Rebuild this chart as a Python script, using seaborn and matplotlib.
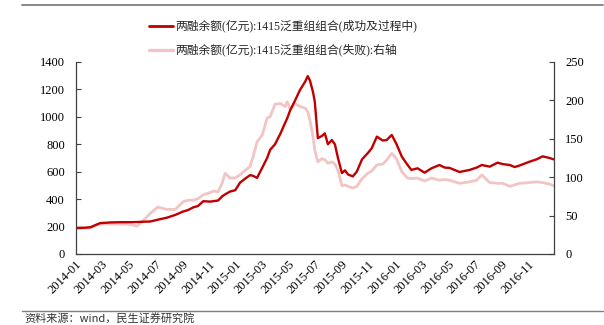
import matplotlib
matplotlib.use("Agg")
import matplotlib.pyplot as plt
import matplotlib.dates as mdates
from matplotlib.lines import Line2D
import seaborn as sns
import pandas as pd

dates = [
    "2014-01-02", "2014-01-22", "2014-02-03", "2014-02-14", "2014-02-25", "2014-03-20",
    "2014-04-12", "2014-05-05", "2014-05-21", "2014-06-01", "2014-06-20", "2014-07-07",
    "2014-07-28", "2014-08-16", "2014-09-03", "2014-09-14", "2014-09-26", "2014-10-07",
    "2014-10-19", "2014-11-04", "2014-11-11", "2014-11-22", "2014-12-01", "2014-12-08",
    "2014-12-19", "2014-12-31", "2015-01-11", "2015-01-23", "2015-02-03", "2015-02-10",
    "2015-02-19", "2015-03-03", "2015-03-14", "2015-03-21", "2015-04-01", "2015-04-13",
    "2015-04-24", "2015-04-29", "2015-05-06", "2015-05-17", "2015-05-28", "2015-06-09",
    "2015-06-15", "2015-06-20", "2015-06-27", "2015-07-01", "2015-07-08", "2015-07-17",
    "2015-07-24", "2015-07-31", "2015-08-09", "2015-08-16", "2015-08-23", "2015-09-01",
    "2015-09-08", "2015-09-15", "2015-09-26", "2015-10-05", "2015-10-17", "2015-10-30",
    "2015-11-08", "2015-11-20", "2015-12-03", "2015-12-12", "2015-12-24", "2016-01-04",
    "2016-01-16", "2016-01-29", "2016-02-07", "2016-02-21", "2016-03-08", "2016-03-24",
    "2016-04-11", "2016-04-23", "2016-05-04", "2016-05-27", "2016-06-19", "2016-07-05",
    "2016-07-17", "2016-08-04", "2016-08-22", "2016-09-03", "2016-09-19", "2016-09-30",
    "2016-10-11", "2016-11-03", "2016-11-19", "2016-12-03", "2016-12-19", "2016-12-28",
]

success_vals = [
    190, 192, 195, 210, 225, 230,
    232, 232, 233, 235, 237, 250,
    265, 285, 310, 320, 340, 350,
    385, 382, 385, 390, 420, 435,
    455, 465, 520, 550, 575, 570,
    555, 630, 700, 760, 800, 875,
    955, 990, 1050, 1120, 1195, 1257,
    1297, 1265, 1180, 1110, 845, 860,
    880, 800, 831, 800, 700, 590,
    610, 580, 566, 600, 690, 735,
    770, 856, 828, 830, 868, 800,
    710, 650, 613, 625, 593, 625,
    649, 630, 628, 598, 613, 630,
    649, 637, 666, 655, 649, 634,
    645, 673, 690, 712, 700, 690,
]

fail_vals = [
    33, 33.5, 34, 37, 39, 39,
    39, 38.5, 36.5, 42, 53, 61,
    58, 58, 68, 70, 70, 72,
    77, 80, 82, 81, 92, 105,
    99, 99, 103, 109, 114, 127,
    146, 155, 177, 179, 195, 196,
    192, 198, 188, 196, 192, 190,
    185, 174, 153, 135, 120, 124,
    123, 118, 120, 117, 109, 89,
    90, 88, 86, 88, 98, 105,
    108, 116, 117, 122, 131, 124,
    107, 99, 98, 99, 95, 99,
    96, 97, 96, 92, 94, 96,
    103, 93, 92, 92, 88, 90,
    92, 93, 94, 93, 91, 89,
]

label_success = "两融余额(亿元):1415泛重组组合(成功及过程中)"
label_fail = "两融余额(亿元):1415泛重组组合(失败):右轴"
source_text = "资料来源：wind，民生证券研究院"

df = pd.DataFrame({
    "date": pd.to_datetime(dates),
    "success": success_vals,
    "fail": fail_vals,
})

sns.set_theme(style="white")
plt.rcParams["font.family"] = ["Liberation Serif", "Noto Sans CJK SC"]

RED = "#C00000"
PINK = "#F2C4C4"
SPINE = "#404040"

fig = plt.figure(figsize=(6.04, 3.25), dpi=100)
ax = fig.add_axes([76 / 604, 1 - 254 / 325, (554 - 76) / 604, (254 - 62) / 325])
ax2 = ax.twinx()

sns.lineplot(data=df, x="date", y="fail", ax=ax2, color=PINK, linewidth=2.0, legend=False)
sns.lineplot(data=df, x="date", y="success", ax=ax, color=RED, linewidth=1.7, legend=False)

# draw red on top of pink
ax.set_zorder(ax2.get_zorder() + 1)
ax.patch.set_visible(False)

ax.set_ylim(0, 1400)
ax2.set_ylim(0, 250)
ax.set_yticks(range(0, 1401, 200))
ax2.set_yticks(range(0, 251, 50))
ax.set_xlim(pd.Timestamp("2014-01-01"), pd.Timestamp("2016-12-29"))
ax.xaxis.set_major_locator(mdates.MonthLocator(bymonth=[1, 3, 5, 7, 9, 11]))
ax.xaxis.set_major_formatter(mdates.DateFormatter("%Y-%m"))

for a in (ax, ax2):
    a.set_xlabel("")
    a.set_ylabel("")
    for s in a.spines.values():
        s.set_color(SPINE)
        s.set_linewidth(0.9)
    a.spines["top"].set_visible(False)
    a.tick_params(direction="in", length=3.5, width=0.8, color=SPINE,
                  labelsize=9, labelcolor="black")
ax.spines["right"].set_visible(False)
ax2.spines["left"].set_visible(False)
ax2.spines["bottom"].set_visible(False)
ax.tick_params(axis="y", pad=8)
ax2.tick_params(axis="y", pad=8)
ax.tick_params(axis="x", pad=3, labelsize=9)

for lab in ax.get_xticklabels():
    lab.set_rotation(45)
    lab.set_ha("right")
    lab.set_va("top")
    lab.set_rotation_mode("anchor")

handles = [
    Line2D([0], [0], color=RED, linewidth=2.0),
    Line2D([0], [0], color=PINK, linewidth=2.4),
]
fig.legend(handles, [label_success, label_fail], loc="upper left",
           bbox_to_anchor=(143 / 604, 1 - 14 / 325), frameon=False,
           handlelength=2.0, handletextpad=0.25,
           labelspacing=0.95, borderpad=0.0,
           prop={"family": ["Liberation Serif", "Noto Sans CJK SC"], "size": 8.5})

# decorative report rules
fig.add_artist(Line2D([22 / 604, 603 / 604], [1 - 5 / 325, 1 - 5 / 325],
                      color="#7f7f7f", linewidth=1.3, transform=fig.transFigure))
fig.add_artist(Line2D([22 / 604, 603 / 604], [1 - 311 / 325, 1 - 311 / 325],
                      color="#7f7f7f", linewidth=1.0, transform=fig.transFigure))
fig.text(24 / 604, 1 - 313 / 325, source_text, ha="left", va="top", fontsize=8,
         color="#333333", family=["Noto Sans CJK SC", "DejaVu Sans"])

fig.savefig("out.png", dpi=100)
